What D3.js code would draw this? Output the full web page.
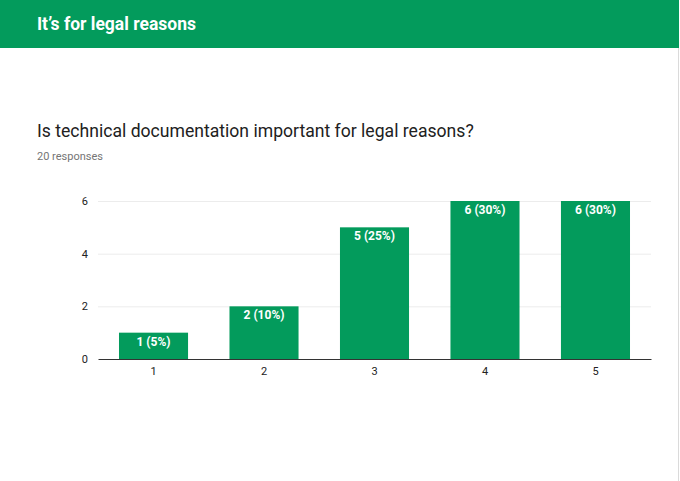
<!DOCTYPE html>
<html>
<head>
<meta charset="utf-8">
<script src="https://cdn.jsdelivr.net/npm/d3@7"></script>
<style>
  body { margin: 0; background: #fff; }
  svg { display: block; font-family: Roboto, Arial, sans-serif; }
</style>
</head>
<body>
<svg width="680" height="481"></svg>
<script>
var categories = ["1", "2", "3", "4", "5"];
var counts = [1, 2, 5, 6, 6];
var yTicks = [0, 2, 4, 6];
var total = 20;

var svg = d3.select("svg");
var green = "#039b5c";

// card edge and header
svg.append("line").attr("x1", 678.5).attr("x2", 678.5).attr("y1", 0).attr("y2", 481)
    .attr("stroke", "#dadada");
svg.append("rect").attr("x", 0).attr("y", 0).attr("width", 679).attr("height", 48).attr("fill", green);
svg.append("text").attr("x", 37).attr("y", 30).attr("fill", "#fff")
    .attr("font-size", 17.5).attr("font-weight", "bold").text("It\u2019s for legal reasons");

svg.append("text").attr("x", 37).attr("y", 137).attr("fill", "#212121")
    .attr("font-size", 17.6).text("Is technical documentation important for legal reasons?");
svg.append("text").attr("x", 37).attr("y", 160).attr("fill", "#757575")
    .attr("font-size", 11).text(total + " responses");

var margin = { top: 201, left: 98 };
var width = 553, height = 158;
var g = svg.append("g").attr("transform", "translate(" + margin.left + "," + margin.top + ")");

var x = d3.scaleBand().domain(categories).range([0, width]).paddingInner(0.375).paddingOuter(0.19);
var y = d3.scaleLinear().domain([0, 6]).range([height, 0]);

// grid
g.append("g").selectAll("line").data(yTicks.filter(function (d) { return d > 0; })).join("line")
    .attr("x1", 0).attr("x2", width)
    .attr("y1", function (d) { return y(d) + 0.5; }).attr("y2", function (d) { return y(d) + 0.5; })
    .attr("stroke", "#ececec");

var yAxis = g.append("g").call(d3.axisLeft(y).tickValues(yTicks).tickFormat(d3.format("d")).tickSize(0).tickPadding(10));
yAxis.select(".domain").remove();
yAxis.selectAll("text").attr("font-size", 11).attr("fill", "#222").attr("font-family", "Roboto, Arial, sans-serif");

g.selectAll(".bar").data(counts).join("rect").attr("class", "bar")
    .attr("x", function (d, i) { return x(categories[i]); })
    .attr("y", function (d) { return y(d); })
    .attr("width", x.bandwidth())
    .attr("height", function (d) { return height - y(d); })
    .attr("fill", green);

g.selectAll(".lbl").data(counts).join("text").attr("class", "lbl")
    .attr("x", function (d, i) { return x(categories[i]) + x.bandwidth() / 2; })
    .attr("y", function (d) { return y(d) + 13; })
    .attr("text-anchor", "middle").attr("fill", "#fff")
    .attr("font-size", 12).attr("font-weight", "bold")
    .text(function (d) { return d + " (" + Math.round(d / total * 100) + "%)"; });

var xAxis = g.append("g").attr("transform", "translate(0," + height + ")")
    .call(d3.axisBottom(x).tickSize(0).tickPadding(8));
xAxis.select(".domain").attr("stroke", "#333").attr("stroke-width", 1);
xAxis.selectAll("text").attr("font-size", 11).attr("fill", "#222").attr("font-family", "Roboto, Arial, sans-serif");
</script>
</body>
</html>
